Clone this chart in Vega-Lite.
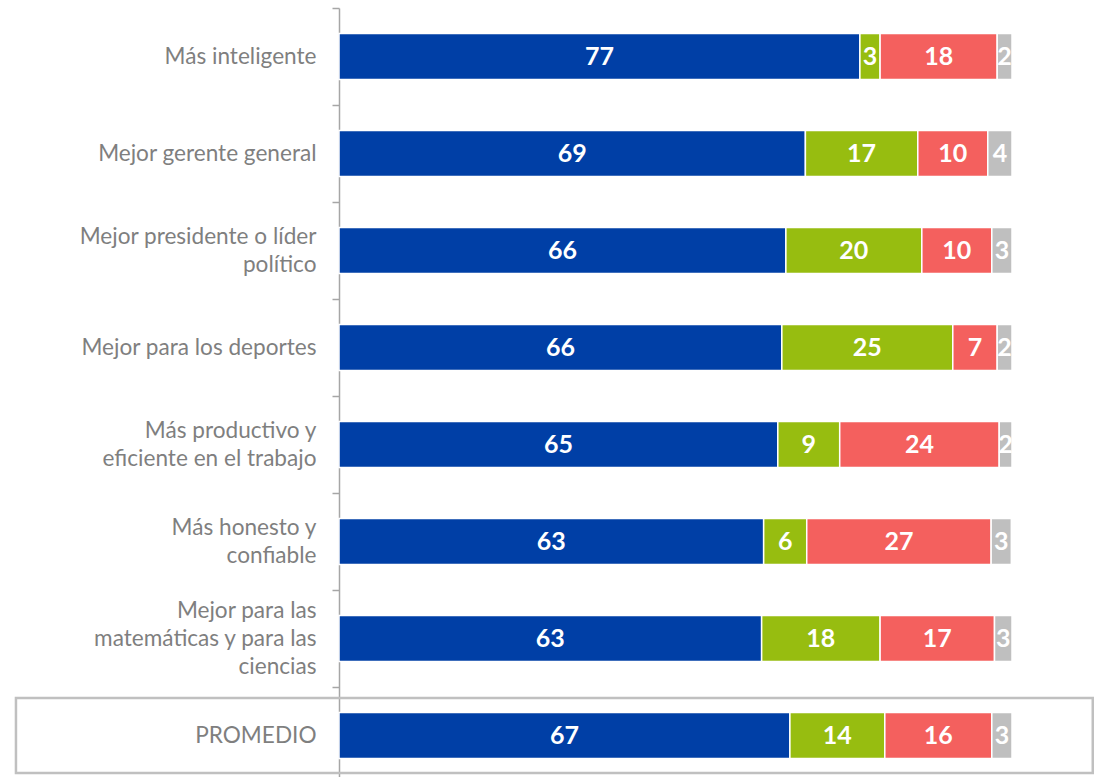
{
  "$schema": "https://vega.github.io/schema/vega-lite/v6.json",
  "width": 673,
  "height": 776,
  "autosize": "none",
  "padding": {"left": 339, "top": 8, "right": 87, "bottom": 0},
  "config": {"view": {"stroke": null}, "font": "Lato"},
  "encoding": {
    "y": {
      "field": "cat",
      "type": "nominal",
      "sort": null,
      "scale": {
        "domain": ["Más inteligente", "Mejor gerente general\u00a0", "Mejor presidente o líder|político", "Mejor para los deportes", "Más productivo y|eficiente en el trabajo", "Más honesto y|confiable", "Mejor para las|matemáticas y para las|ciencias", "PROMEDIO"],
        "paddingInner": 0,
        "paddingOuter": 0
      },
      "axis": {
        "title": null,
        "tickBand": "extent",
        "domainColor": "#A6A6A6",
        "domainWidth": 1.5,
        "tickColor": "#A6A6A6",
        "tickWidth": 1.5,
        "tickSize": 7,
        "labelColor": "#7F7F7F",
        "labelFontSize": 22.6,
        "labelFont": "Lato",
        "labelPadding": 16,
        "labelLimit": 0,
        "labelAlign": "right",
        "labelLineHeight": 28,
        "labelOffset": {
          "condition": [
            {"test": "length(split(datum.value, '|')) == 3", "value": -28},
            {"test": "length(split(datum.value, '|')) == 2", "value": -14}
          ],
          "value": 0
        },
        "labelExpr": "split(datum.label, '|')"
      }
    }
  },
  "layer": [
    {
      "data": {"name": "main"},
      "mark": {"type": "bar", "stroke": "white", "strokeWidth": 1.5, "height": {"band": 0.474}},
      "encoding": {
        "x": {"field": "v", "type": "quantitative", "stack": "zero", "scale": {"domain": [0, 100], "nice": false}, "axis": null},
        "color": {"field": "s", "type": "nominal", "scale": {"domain": ["a", "b", "c", "d"], "range": ["#003FA6", "#97BD10", "#F4605E", "#BFBFBF"]}, "legend": null},
        "order": {"field": "k", "type": "quantitative"}
      }
    },
    {
      "data": {"name": "main"},
      "mark": {"type": "text", "color": "white", "fontWeight": "bold", "fontSize": 25, "font": "Lato", "align": "center", "baseline": "middle"},
      "encoding": {
        "x": {"field": "v", "type": "quantitative", "stack": "zero", "bandPosition": 0.5},
        "detail": {"field": "s"},
        "order": {"field": "k", "type": "quantitative"},
        "text": {"field": "lbl", "type": "nominal"}
      }
    },
    {
      "data": {"values": [{"cat": "PROMEDIO", "x0": -48, "x1": 112}]},
      "mark": {"type": "bar", "fillOpacity": 0, "stroke": "#C0C0C0", "strokeWidth": 2.5, "height": {"band": 0.775}},
      "encoding": {
        "x": {"field": "x0", "type": "quantitative"},
        "x2": {"field": "x1"}
      }
    }
  ],
  "datasets": {
    "main": [
      {"cat": "Más inteligente", "s": "a", "k": 1, "v": 77.4, "lbl": "77"},
      {"cat": "Más inteligente", "s": "b", "k": 2, "v": 3.0, "lbl": "3"},
      {"cat": "Más inteligente", "s": "c", "k": 3, "v": 17.4, "lbl": "18"},
      {"cat": "Más inteligente", "s": "d", "k": 4, "v": 2.2, "lbl": "2"},
      {"cat": "Mejor gerente general\u00a0", "s": "a", "k": 1, "v": 69.3, "lbl": "69"},
      {"cat": "Mejor gerente general\u00a0", "s": "b", "k": 2, "v": 16.7, "lbl": "17"},
      {"cat": "Mejor gerente general\u00a0", "s": "c", "k": 3, "v": 10.4, "lbl": "10"},
      {"cat": "Mejor gerente general\u00a0", "s": "d", "k": 4, "v": 3.6, "lbl": "4"},
      {"cat": "Mejor presidente o líder|político", "s": "a", "k": 1, "v": 66.4, "lbl": "66"},
      {"cat": "Mejor presidente o líder|político", "s": "b", "k": 2, "v": 20.2, "lbl": "20"},
      {"cat": "Mejor presidente o líder|político", "s": "c", "k": 3, "v": 10.4, "lbl": "10"},
      {"cat": "Mejor presidente o líder|político", "s": "d", "k": 4, "v": 3.0, "lbl": "3"},
      {"cat": "Mejor para los deportes", "s": "a", "k": 1, "v": 65.8, "lbl": "66"},
      {"cat": "Mejor para los deportes", "s": "b", "k": 2, "v": 25.4, "lbl": "25"},
      {"cat": "Mejor para los deportes", "s": "c", "k": 3, "v": 6.6, "lbl": "7"},
      {"cat": "Mejor para los deportes", "s": "d", "k": 4, "v": 2.2, "lbl": "2"},
      {"cat": "Más productivo y|eficiente en el trabajo", "s": "a", "k": 1, "v": 65.2, "lbl": "65"},
      {"cat": "Más productivo y|eficiente en el trabajo", "s": "b", "k": 2, "v": 9.2, "lbl": "9"},
      {"cat": "Más productivo y|eficiente en el trabajo", "s": "c", "k": 3, "v": 23.7, "lbl": "24"},
      {"cat": "Más productivo y|eficiente en el trabajo", "s": "d", "k": 4, "v": 1.9, "lbl": "2"},
      {"cat": "Más honesto y|confiable", "s": "a", "k": 1, "v": 63.1, "lbl": "63"},
      {"cat": "Más honesto y|confiable", "s": "b", "k": 2, "v": 6.4, "lbl": "6"},
      {"cat": "Más honesto y|confiable", "s": "c", "k": 3, "v": 27.4, "lbl": "27"},
      {"cat": "Más honesto y|confiable", "s": "d", "k": 4, "v": 3.0, "lbl": "3"},
      {"cat": "Mejor para las|matemáticas y para las|ciencias", "s": "a", "k": 1, "v": 62.8, "lbl": "63"},
      {"cat": "Mejor para las|matemáticas y para las|ciencias", "s": "b", "k": 2, "v": 17.6, "lbl": "18"},
      {"cat": "Mejor para las|matemáticas y para las|ciencias", "s": "c", "k": 3, "v": 17.0, "lbl": "17"},
      {"cat": "Mejor para las|matemáticas y para las|ciencias", "s": "d", "k": 4, "v": 2.6, "lbl": "3"},
      {"cat": "PROMEDIO", "s": "a", "k": 1, "v": 67.0, "lbl": "67"},
      {"cat": "PROMEDIO", "s": "b", "k": 2, "v": 14.1, "lbl": "14"},
      {"cat": "PROMEDIO", "s": "c", "k": 3, "v": 15.9, "lbl": "16"},
      {"cat": "PROMEDIO", "s": "d", "k": 4, "v": 3.0, "lbl": "3"}
    ]
  }
}
